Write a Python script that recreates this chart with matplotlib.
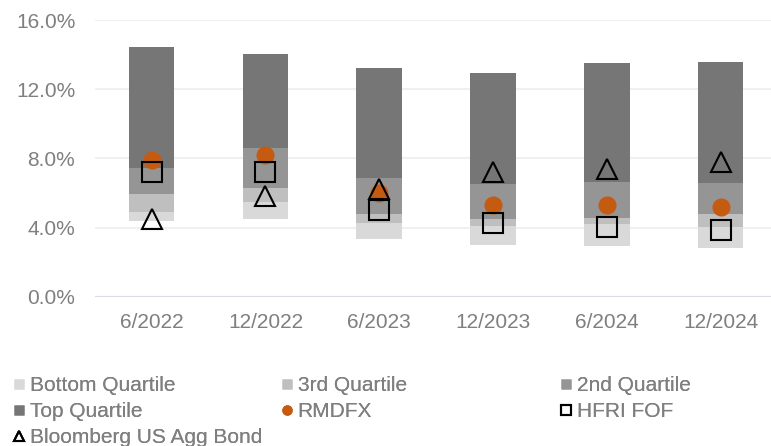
import matplotlib
matplotlib.use("Agg")
import matplotlib.pyplot as plt
from matplotlib.lines import Line2D
import numpy as np

plt.rcParams['font.family'] = ['Liberation Sans', 'DejaVu Sans']

categories = ['6/2022', '12/2022', '6/2023', '12/2023', '6/2024', '12/2024']
q_min = [4.37, 4.52, 3.35, 2.98, 2.94, 2.79]
q_25 = [4.87, 5.45, 4.27, 4.10, 4.23, 4.02]
q_50 = [5.93, 6.31, 4.77, 4.48, 4.54, 4.77]
q_75 = [7.44, 8.60, 6.89, 6.54, 6.64, 6.60]
q_max = [14.42, 14.04, 13.24, 12.95, 13.52, 13.56]
rmdfx = [7.89, 8.18, 6.02, 5.33, 5.29, 5.16]
hfri = [7.21, 7.21, 5.04, 4.24, 4.01, 3.88]
agg = [4.48, 5.80, 6.23, 7.20, 7.40, 7.79]
yticks = [0, 4, 8, 12, 16]

c_bottom = '#d9d9d9'
c_3rd = '#bfbfbf'
c_2nd = '#959595'
c_top = '#767676'
c_orange = '#c55a11'
c_text = '#7f7f7f'

fig = plt.figure(figsize=(7.71, 4.46), dpi=100)
ax = fig.add_axes([94.8/771, 1-296.7/446, (777.4-94.8)/771, (296.7-20)/446])

x = np.arange(len(categories))
w = 0.4
lo = np.array(q_min); a = np.array(q_25); m = np.array(q_50); b = np.array(q_75); hi = np.array(q_max)
ax.bar(x, a-lo, w, bottom=lo, color=c_bottom, zorder=2)
ax.bar(x, m-a, w, bottom=a, color=c_3rd, zorder=2)
ax.bar(x, b-m, w, bottom=m, color=c_2nd, zorder=2)
ax.bar(x, hi-b, w, bottom=b, color=c_top, zorder=2)

ax.plot(x, rmdfx, 'o', ms=13, color=c_orange, mec='none', zorder=3)
ax.plot(x, hfri, 's', ms=14.5, mfc='none', mec='black', mew=1.5, zorder=4)
ax.plot(x, agg, '^', ms=15, mfc='none', mec='black', mew=1.5, zorder=5)

ax.set_xlim(-0.5, len(categories)-0.5)
ax.set_ylim(0, 16)
ax.set_yticks(yticks)
ax.set_yticklabels([f'{v:.1f}%' for v in yticks])
ax.set_xticks(x)
ax.set_xticklabels(categories)
ax.tick_params(axis='both', length=0, labelsize=15, colors=c_text)
ax.tick_params(axis='y', pad=14)
ax.tick_params(axis='x', pad=12)
for s in ax.spines.values():
    s.set_visible(False)
ax.grid(axis='y', color='#f0f0f0', lw=1.5, zorder=0)
ax.set_axisbelow(True)
ax.axhline(0, color='#d9dde3', lw=1.5, zorder=1)

def leg(handles, labels, xpos):
    lg = fig.legend(handles, labels, loc='upper left', bbox_to_anchor=(xpos, 1-376/446),
                    bbox_transform=fig.transFigure, frameon=False, fontsize=15,
                    labelcolor=c_text, handlelength=0.55, handletextpad=0.25,
                    borderpad=0, borderaxespad=0, labelspacing=0.34)
    return lg

h_bottom = Line2D([], [], ls='none', marker='s', ms=7, color=c_bottom, mec='none')
h_3rd = Line2D([], [], ls='none', marker='s', ms=7, color=c_3rd, mec='none')
h_2nd = Line2D([], [], ls='none', marker='s', ms=7, color=c_2nd, mec='none')
h_top = Line2D([], [], ls='none', marker='s', ms=7, color=c_top, mec='none')
h_rm = Line2D([], [], ls='none', marker='o', ms=7.5, color=c_orange, mec='none')
h_hf = Line2D([], [], ls='none', marker='s', ms=7, mfc='none', mec='black', mew=1.5)
h_ag = Line2D([], [], ls='none', marker='^', ms=7, mfc='none', mec='black', mew=1.5)

fig.add_artist(leg([h_bottom, h_top, h_ag], ['Bottom Quartile', 'Top Quartile', 'Bloomberg US Agg Bond'], 13/771))
fig.add_artist(leg([h_3rd, h_rm], ['3rd Quartile', 'RMDFX'], 281/771))
fig.add_artist(leg([h_2nd, h_hf], ['2nd Quartile', 'HFRI FOF'], 560/771))

fig.savefig('out.png', dpi=100)
